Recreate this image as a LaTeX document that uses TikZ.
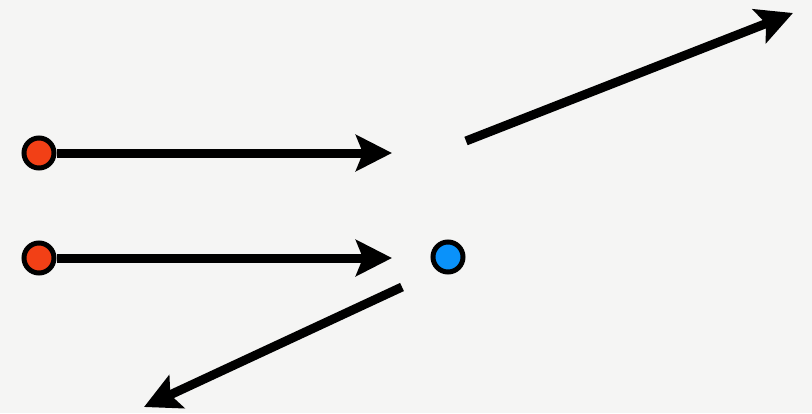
\documentclass[tikz,border=0pt]{standalone}
\usetikzlibrary{arrows.meta}
\definecolor{bgc}{RGB}{245,245,244}
\definecolor{redc}{RGB}{242,64,22}
\definecolor{bluec}{RGB}{10,146,250}
\begin{document}
\begin{tikzpicture}[x=1pt,y=-1pt,
  arr/.style={line width=9pt,-{Stealth[length=36pt,width=36pt,inset=7pt]}},
  dotred/.style={circle,fill=redc,draw=black,line width=5pt,minimum size=30pt,inner sep=0pt},
  dotblue/.style={circle,fill=bluec,draw=black,line width=5pt,minimum size=30pt,inner sep=0pt}]
\fill[bgc] (0,0) rectangle (812,413);
\useasboundingbox (0,0) rectangle (812,413);
\coordinate (t1) at (392,153);
\coordinate (t2) at (392,258);
\coordinate (s3) at (466,141);
\coordinate (t3) at (793,13);
\coordinate (s4) at (402,287);
\coordinate (t4) at (144,407);
\node[dotred] (r1) at (39,153) {};
\node[dotred] (r2) at (39,258) {};
\node[dotblue] (b) at (448,257) {};
\draw[arr] (r1.east) -- (t1);
\draw[arr] (r2.east) -- (t2);
\draw[arr] (s3) -- (t3);
\draw[arr] (s4) -- (t4);
\end{tikzpicture}
\end{document}
